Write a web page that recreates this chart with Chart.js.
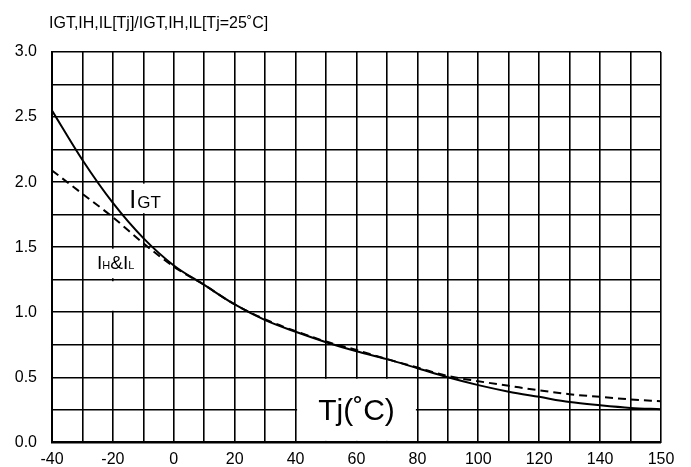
<!DOCTYPE html>
<html>
<head>
<meta charset="utf-8">
<script src="https://cdn.jsdelivr.net/npm/chart.js@4.4.1/dist/chart.umd.min.js"></script>
<style>
  html, body { margin: 0; padding: 0; background: #fff; }
  #wrap { width: 691px; height: 467px; position: relative; }
</style>
</head>
<body>
<div id="wrap"><canvas id="chart" width="691" height="467"></canvas></div>
<script>
// Values. The grid has 20 equal cells of 10 degrees,
// so the right edge sits at grid position 160 but is labelled "150".
const tempGrid = [-40, -30, -20, -10, 0, 10, 20, 30, 40, 50, 60, 70, 80, 90, 100, 110, 120, 130, 140, 150, 160];
const igtRatio = [2.55, 2.17, 1.84, 1.57, 1.36, 1.21, 1.06, 0.94, 0.85, 0.77, 0.70, 0.64, 0.57, 0.50, 0.44, 0.39, 0.35, 0.31, 0.285, 0.265, 0.255];
const ihIlRatio = [2.09, 1.91, 1.73, 1.53, 1.35, 1.21, 1.06, 0.945, 0.855, 0.775, 0.71, 0.64, 0.575, 0.51, 0.47, 0.435, 0.40, 0.37, 0.35, 0.33, 0.317];
const xLabels = { '-40': '-40', '-20': '-20', '0': '0', '20': '20', '40': '40', '60': '60', '80': '80', '100': '100', '120': '120', '140': '140', '160': '150' };
const yLabelStep = 0.5;
const titleText = 'IGT,IH,IL[Tj]/IGT,IH,IL[Tj=25\u02DAC]';

const FONT = "'Liberation Sans', Arial, sans-serif";
Chart.defaults.color = '#000';
Chart.defaults.font.family = FONT;

function pts(xs, ys){
  return xs.map((x, i) => ({ x, y: ys[i] }));
}

// white patches over the grid behind the in-plot labels, then the labels
const labelsPlugin = {
  id: 'labels',
  beforeDatasetsDraw(chart){
    const c = chart.ctx, xs = chart.scales.x, ys = chart.scales.y;
    const X = v => xs.getPixelForValue(v), Y = v => ys.getPixelForValue(v);
    const g = 1.5;
    c.save();
    c.fillStyle = '#fff';
    const patch = (x0, x1, y0, y1) => c.fillRect(X(x0) + g, Y(y0) + g, X(x1) - X(x0) - 2*g, Y(y1) - Y(y0) - 2*g);
    patch(-20, 0, 2.0, 1.75);
    patch(-30, -10, 1.5, 1.25);
    patch(-30, -10, 1.25, 1.0);
    patch(40, 80, 0.5, 0);
    c.restore();
  },
  afterDraw(chart){
    const c = chart.ctx, xs = chart.scales.x, ys = chart.scales.y;
    const X = v => xs.getPixelForValue(v), Y = v => ys.getPixelForValue(v);
    c.save();
    c.fillStyle = '#000';
    c.textBaseline = 'alphabetic';
    c.textAlign = 'left';

    // title
    c.font = '16px ' + FONT;
    c.fillText(titleText, 49, 28);

    // IGT
    let x = X(-14.6), y = Y(1.80);
    c.font = '25px ' + FONT;
    c.fillText('I', x, y);
    x += c.measureText('I').width + 1;
    c.font = '17px ' + FONT;
    c.fillText('GT', x, y);

    // IH&IL
    x = X(-25.2); y = Y(1.33);
    const parts = [['I', 19], ['H', 11], ['&', 19], ['I', 19], ['L', 11]];
    parts.forEach(([t, s]) => {
      c.font = s + 'px ' + FONT;
      c.fillText(t, x, y);
      x += c.measureText(t).width;
    });

    // Tj(°C)
    c.font = '30px ' + FONT;
    c.textAlign = 'center';
    c.fillText('Tj(\u02DAC)', X(60), Y(0.173));
    c.restore();
  }
};

new Chart(document.getElementById('chart'), {
  type: 'line',
  data: {
    datasets: [
      { label: 'IGT', data: pts(tempGrid, igtRatio), borderColor: '#000', borderWidth: 2, pointRadius: 0, cubicInterpolationMode: 'monotone', fill: false },
      { label: 'IH&IL', data: pts(tempGrid, ihIlRatio), borderColor: '#000', borderWidth: 2, borderDash: [8, 5], pointRadius: 0, cubicInterpolationMode: 'monotone', fill: false }
    ]
  },
  options: {
    responsive: false,
    animation: false,
    layout: { padding: { left: 0, right: 30, top: 52, bottom: 0 } },
    plugins: { legend: { display: false }, tooltip: { enabled: false } },
    scales: {
      x: {
        type: 'linear', min: -40, max: 160,
        afterFit(s){ s.height = 24.5; },
        grid: { color: '#000', lineWidth: 1.6, drawTicks: false },
        border: { color: '#000', width: 2 },
        ticks: {
          stepSize: 10, autoSkip: false, maxRotation: 0, padding: 8,
          font: { size: 16, family: FONT },
          callback: v => xLabels[String(v)] || ''
        }
      },
      y: {
        min: 0, max: 3,
        afterFit(s){ s.width = 52; },
        grid: { color: '#000', lineWidth: 1.6, drawTicks: false },
        border: { color: '#000', width: 2 },
        ticks: {
          stepSize: 0.25, autoSkip: false, padding: 15,
          font: { size: 16, family: FONT },
          callback: v => Math.abs(v / yLabelStep - Math.round(v / yLabelStep)) < 1e-6 ? v.toFixed(1) : ''
        }
      }
    }
  },
  plugins: [labelsPlugin]
});
</script>
</body>
</html>
